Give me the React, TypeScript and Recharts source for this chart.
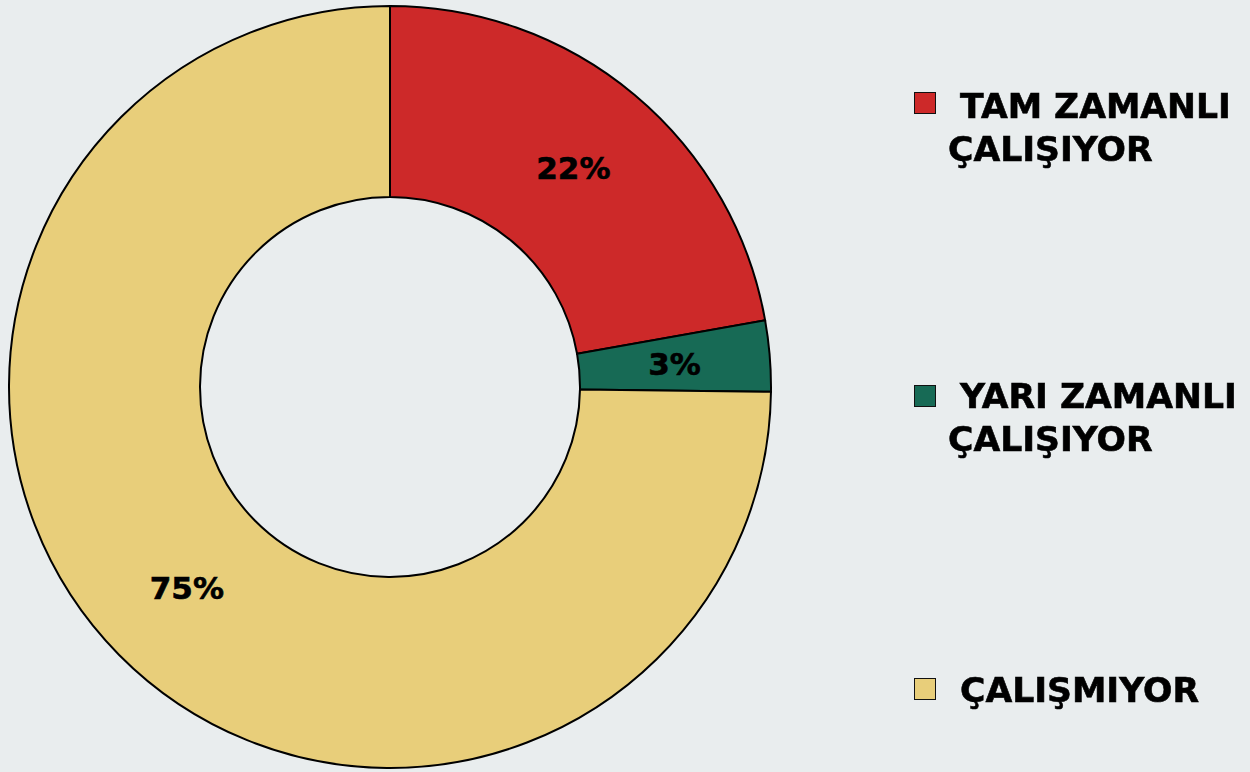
import * as React from "react"
import { PieChart, Pie, Cell, Legend } from "recharts"

const categories = ["TAM ZAMANLI ÇALIŞIYOR", "YARI ZAMANLI ÇALIŞIYOR", "ÇALIŞMIYOR"]
const shares = [22.2, 3.0, 74.8]
const shareLabels = ["22%", "3%", "75%"]
const colors = ["#CD2929", "#176A55", "#E8CE7A"]

const data = categories.map((name, i) => ({ name, value: shares[i], label: shareLabels[i] }))

const RAD = Math.PI / 180
const font = "'DejaVu Sans', Verdana, sans-serif"

const renderLabel = (props: any) => {
    const { cx, cy, midAngle, innerRadius, outerRadius, index } = props
    const r = (innerRadius + outerRadius) / 2
    const x = cx + r * Math.cos(-midAngle * RAD)
    const y = cy + r * Math.sin(-midAngle * RAD)
    return (
        <text x={x} y={y} textAnchor="middle" dominantBaseline="central"
            fontFamily={font} fontWeight="bold" fontSize={31} fill="#000"
            stroke="#000" strokeWidth={0.6}>
            {data[index].label}
        </text>
    )
}

// layout of legend rows (px from top of chart)
const legendTops = [85, 375, 669]
const squareTops = [92, 385, 678]

const renderLegend = (props: any) => {
    const payload = props.payload || []
    return (
        <div style={{ position: "relative", width: 338, height: 772 }}>
            {payload.map((p: any, i: number) => (
                <React.Fragment key={i}>
                    <div style={{
                        position: "absolute", left: 2, top: squareTops[i], width: 20, height: 20,
                        background: colors[i], border: "1.5px solid #111"
                    }} />
                    <div style={{
                        position: "absolute", left: 36, top: legendTops[i], width: 310,
                        fontFamily: font, fontWeight: "bold", fontSize: 34.6, lineHeight: "43px",
                        textIndent: 12, color: "#000", textAlign: "left",
                        WebkitTextStroke: "0.6px #000"
                    }}>
                        {p.value}
                    </div>
                </React.Fragment>
            ))}
        </div>
    )
}

export default function App() {
    return (
        <div style={{ position: "fixed", left: 0, top: 0, width: 1250, height: 772, background: "#E9EDEE" }}>
            <PieChart width={1250} height={772} margin={{ top: 0, right: 0, bottom: 0, left: 0 }}>
                <Pie
                    data={data}
                    dataKey="value"
                    nameKey="name"
                    cx={390}
                    cy={387}
                    innerRadius={190}
                    outerRadius={381}
                    startAngle={90}
                    endAngle={-270}
                    stroke="#000"
                    strokeWidth={2}
                    label={renderLabel}
                    labelLine={false}
                    isAnimationActive={false}
                >
                    {data.map((d, i) => <Cell key={d.name} fill={colors[i]} />)}
                </Pie>
                <Legend
                    content={renderLegend}
                    wrapperStyle={{ position: "absolute", left: 912, top: 0, width: 338, height: 772 }}
                />
            </PieChart>
        </div>
    )
}
